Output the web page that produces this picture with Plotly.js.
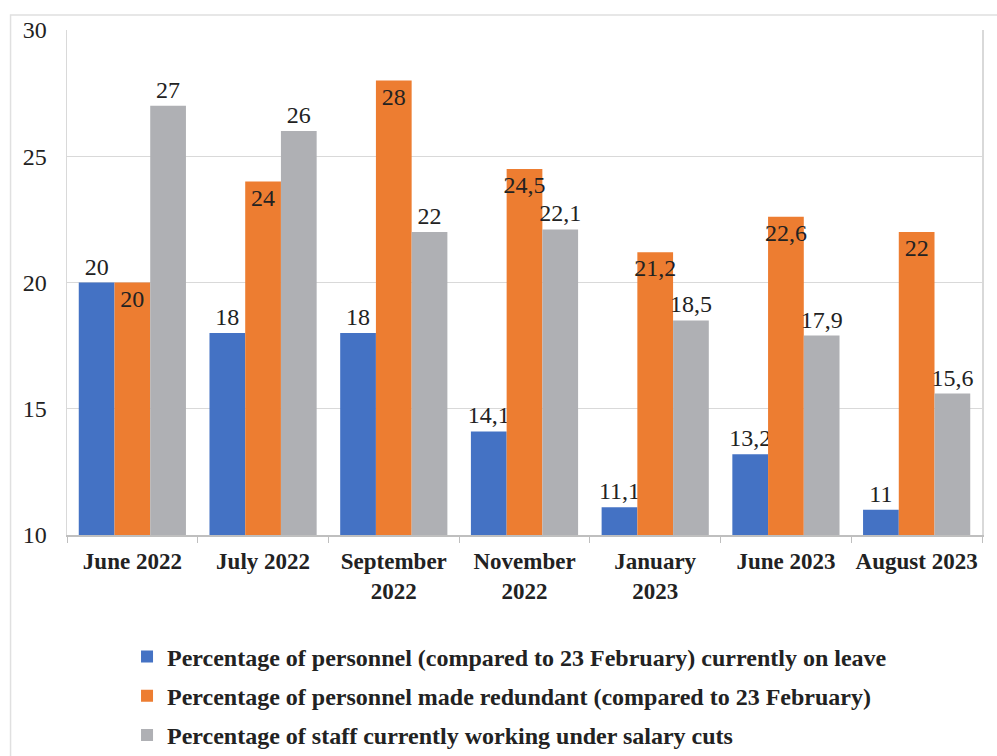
<!DOCTYPE html>
<html>
<head>
<meta charset="utf-8">
<script src="https://cdn.plot.ly/plotly-3.0.1.min.js"></script>
<style>html,body{margin:0;padding:0;background:#fff;}#chart{width:997px;height:756px;}</style>
</head>
<body>
<div id="chart"></div>
<script>
const categories = ["June 2022", "July 2022", "September<br>2022", "November<br>2022", "January<br>2023", "June 2023", "August 2023"];
const onLeave = [20, 18, 18, 14.1, 11.1, 13.2, 11];
const redundant = [20, 24, 28, 24.5, 21.2, 22.6, 22];
const salaryCuts = [27, 26, 22, 22.1, 18.5, 17.9, 15.6];
const seriesNames = [
  "Percentage of personnel (compared to 23 February) currently on leave",
  "Percentage of personnel made redundant (compared to 23 February)",
  "Percentage of staff currently working under salary cuts"
];
const colors = ["#4472C4", "#ED7D31", "#AFB0B4"];
const fmt = v => String(v).replace('.', ',');
const font = "Liberation Serif";

function trace(vals, i, pos) {
  return {
    type: 'bar', x: categories, y: vals, name: seriesNames[i],
    marker: {color: colors[i]},
    text: vals.map(fmt), textposition: pos, textangle: 0,
    insidetextanchor: 'end', constraintext: 'none', cliponaxis: false,
    textfont: {family: font, size: 24, color: '#222'},
    insidetextfont: {family: font, size: 24, color: '#222'},
    outsidetextfont: {family: font, size: 24, color: '#222'},
    legendgroup: 'g' + i, hoverinfo: 'y'
  };
}
const data = [trace(onLeave, 0, 'outside'), trace(redundant, 1, 'inside'), trace(salaryCuts, 2, 'outside')];

const layout = {
  width: 997, height: 756,
  margin: {l: 67, r: 15, t: 30, b: 221, autoexpand: false},
  paper_bgcolor: '#fff', plot_bgcolor: '#fff',
  barmode: 'group', bargap: 0.18, bargroupgap: 0,
  font: {family: font, color: '#222'},
  showlegend: true,
  legend: {x: 0.0656, y: -0.197, xanchor: 'left', yanchor: 'top', orientation: 'v',
    font: {family: font, size: 24, color: '#222', weight: 'bold'},
    traceorder: 'grouped', tracegroupgap: 5, itemwidth: 30},
  xaxis: {
    type: 'category', showgrid: false, showline: true, linecolor: '#bfbfbf', linewidth: 1.5,
    ticks: 'outside', tickson: 'boundaries', ticklen: 6, tickcolor: '#bfbfbf',
    tickfont: {family: font, size: 23, color: '#222', weight: 'bold'},
    tickangle: 0, ticklabelstandoff: 5,
    automargin: false
  },
  yaxis: {
    range: [10, 30], dtick: 5, tick0: 10, showgrid: true, gridcolor: '#d9d9d9', gridwidth: 1,
    showline: true, mirror: true, linecolor: '#d9d9d9', linewidth: 1.5, zeroline: false,
    tickfont: {family: font, size: 24, color: '#222'}, ticklabelstandoff: 14,
    automargin: false
  },
  shapes: [{type: 'rect', xref: 'paper', yref: 'paper', x0: -0.0617, x1: 1.2, y0: -1, y1: 1.0297,
    line: {color: '#e0e0e0', width: 1.5}, layer: 'below'}]
};
Plotly.newPlot('chart', data, layout, {displayModeBar: false, staticPlot: true});
</script>
</body>
</html>
